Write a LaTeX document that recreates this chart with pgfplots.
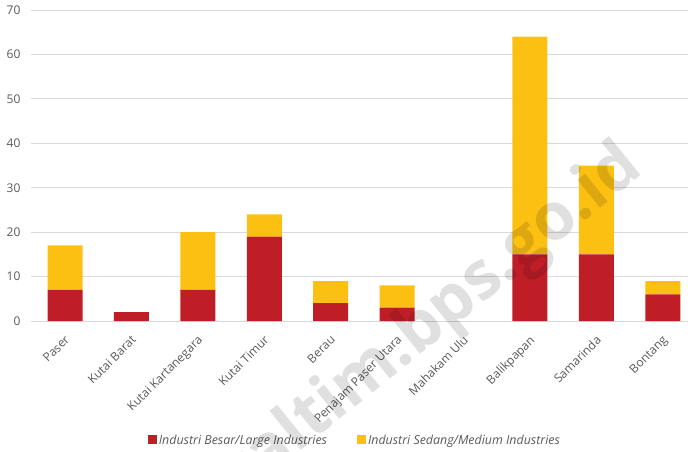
\documentclass[border=0pt]{standalone}
\usepackage{pgfplots}
\pgfplotsset{compat=1.18}
\usepackage{fontspec}
\setmainfont{Open Sans}
\definecolor{bigred}{RGB}{192,30,38}
\definecolor{medyel}{RGB}{252,192,18}
\definecolor{tickgray}{RGB}{89,89,89}
\definecolor{gridgray}{RGB}{217,217,217}
\begin{document}
\begin{tikzpicture}
\begin{axis}[
  at={(0pt,0pt)}, anchor=south west,
  scale only axis, width=657pt, height=311pt,
  ybar stacked, bar width=35pt,
  xmin=-0.512, xmax=9.38, ymin=0, ymax=70,
  ytick={0,10,...,70},
  xtick={0,...,9},
  xticklabels={Paser,Kutai Barat,Kutai Kartanegara,Kutai Timur,Berau,Penajam Paser Utara,Mahakam Ulu,Balikpapan,Samarinda,Bontang},
  axis line style={draw=none},
  tick style={draw=none},
  ymajorgrids, grid style={gridgray, line width=0.8pt},
  major tick length=0pt,
  tick label style={font=\fontsize{12}{14}\selectfont, text=tickgray},
  /pgf/number format/assume math mode=true,
  yticklabel style={anchor=east, xshift=-7pt},
  xticklabel style={xshift=-1pt, yshift=-12pt, rotate=45, anchor=north east, inner sep=1pt},
  legend style={at={(0.493,-0.383)}, anchor=center, legend columns=2, draw=none, fill=none,
     font=\itshape\fontsize{12.4}{14}\selectfont, text=tickgray,
     /tikz/every even column/.append style={column sep=28pt},
     /tikz/every odd column/.append style={column sep=0pt},
     nodes={inner xsep=2pt}},
  legend image code/.code={\fill[#1] (0pt,-4pt) rectangle (9pt,5pt);},
]
\addplot[fill=bigred, draw=none] coordinates {(0,7) (1,2) (2,7) (3,19) (4,4) (5,3) (6,0) (7,15) (8,15) (9,6)};
\addplot[fill=medyel, draw=none] coordinates {(0,10) (1,0) (2,13) (3,5) (4,5) (5,5) (6,0) (7,49) (8,20) (9,3)};
\legend{Industri Besar/Large Industries, Industri Sedang/Medium Industries}
\end{axis}
\node[rotate=39, font=\bfseries\fontsize{66}{66}\selectfont, text=black, opacity=0.12] at (398pt,-4pt) {kaltim.bps.go.id};
\pgfresetboundingbox
\path (-31pt,-131pt) rectangle (657pt,321pt);
\end{tikzpicture}
\end{document}
